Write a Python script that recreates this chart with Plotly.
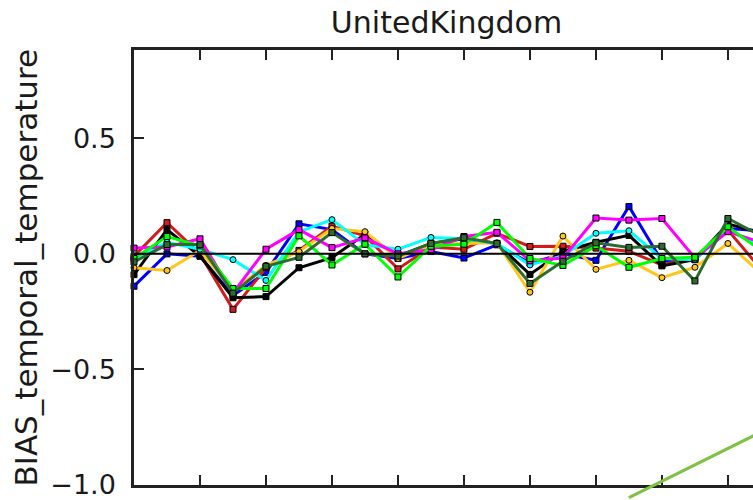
import plotly.graph_objects as go

# Time steps along the x axis
steps = list(range(20))

# Temperature bias per model run, one list per run
bias_blue = [-0.14, 0.0, -0.01, -0.18, -0.08, 0.13, 0.105, 0.0, -0.02, 0.01,
             -0.018, 0.039, -0.04, 0.0, -0.028, 0.205, -0.032, -0.025, 0.11, 0.10]
bias_red = [-0.01, 0.135, 0.0, -0.24, -0.06, 0.015, 0.12, 0.078, -0.065, 0.03,
            0.02, 0.089, 0.032, 0.033, 0.025, 0.011, -0.048, -0.015, 0.103, -0.066]
bias_black = [-0.09, 0.105, -0.01, -0.19, -0.185, -0.06, -0.016, 0.085, -0.01, 0.045,
              0.065, 0.045, -0.089, 0.011, 0.05, 0.08, -0.052, -0.025, 0.13, 0.09]
bias_gold = [-0.06, -0.072, 0.015, -0.16, -0.05, 0.01, 0.11, 0.096, -0.02, 0.04,
             0.045, 0.048, -0.166, 0.077, -0.067, -0.028, -0.103, -0.058, 0.045, -0.085]
bias_cyan = [-0.02, 0.05, 0.02, -0.025, -0.115, 0.095, 0.148, 0.04, 0.02, 0.071,
             0.065, 0.045, -0.048, -0.008, 0.089, 0.1, -0.02, -0.025, 0.105, 0.03]
bias_magenta = [0.025, 0.03, 0.065, -0.17, 0.02, 0.105, 0.027, 0.069, 0.0, 0.018,
                0.075, 0.093, -0.03, -0.018, 0.155, 0.146, 0.153, -0.018, 0.096, 0.05]
bias_lime = [-0.02, 0.075, 0.035, -0.15, -0.15, 0.078, -0.048, 0.042, -0.1, 0.033,
             0.042, 0.136, -0.02, -0.05, 0.035, -0.058, -0.02, -0.015, 0.117, 0.015]
bias_darkgreen = [-0.035, 0.04, 0.04, -0.17, -0.054, -0.015, 0.092, 0.0, -0.01, 0.045,
                  0.07, 0.045, -0.128, -0.032, 0.048, 0.028, 0.033, -0.117, 0.153, 0.078]

# Straight reference line crossing the lower right corner
trend_steps = [15, 19]
trend_bias = [-1.055, -0.771]

y_ticks = [-1.0, -0.5, 0.0, 0.5]
y_range = [-1.0, 0.882]
x_range = [0, 18.76]

runs = [
    (bias_blue, "#0000ff", "square"),
    (bias_red, "#d01c1c", "square"),
    (bias_black, "#000000", "square"),
    (bias_gold, "#ffc61a", "circle"),
    (bias_cyan, "#00ffff", "circle"),
    (bias_magenta, "#ff00ff", "square"),
    (bias_lime, "#00ff00", "square"),
    (bias_darkgreen, "#2e6b30", "square"),
]

fig = go.Figure()
for values, colour, symbol in runs:
    fig.add_trace(go.Scatter(
        x=steps, y=values, mode="lines+markers",
        line=dict(color=colour, width=3),
        marker=dict(symbol=symbol, size=6, color=colour,
                    line=dict(color="#000000", width=1)),
        showlegend=False, cliponaxis=False,
    ))

# Horizontal reference at zero bias
fig.add_hline(y=0, line=dict(color="#000000", width=2), layer="above")

# Diagonal line, free to run below the plotting area
span = y_range[1] - y_range[0]
fig.add_shape(type="line", xref="x", yref="paper",
              x0=trend_steps[0], x1=trend_steps[1],
              y0=(trend_bias[0] - y_range[0]) / span,
              y1=(trend_bias[1] - y_range[0]) / span,
              line=dict(color="#7dc242", width=3), layer="above")

text_font = dict(family="DejaVu Sans", color="#1a1a1a")

fig.update_layout(
    width=753, height=500,
    margin=dict(l=134, r=0, t=49.5, b=7.5),
    paper_bgcolor="white", plot_bgcolor="white",
    font=dict(family="DejaVu Sans", size=27, color="#1a1a1a"),
    title=dict(text="UnitedKingdom", x=446.5 / 753, xanchor="center",
               xref="container", y=1 - 22 / 500, yanchor="middle",
               font=dict(size=30, **text_font)),
    xaxis=dict(range=x_range, tick0=0, dtick=2, ticks="inside", ticklen=10,
               tickwidth=1.5, tickcolor="#222222", showticklabels=False,
               showline=True, linewidth=2.5, linecolor="#222222",
               mirror="ticks", showgrid=False, zeroline=False),
    yaxis=dict(range=y_range, tickvals=y_ticks, tickformat=".1f",
               ticks="inside", ticklen=10, tickwidth=1.5, tickcolor="#222222",
               ticklabelstandoff=10, ticklabeloverflow="allow",
               tickfont=dict(size=27, **text_font),
               showline=True, linewidth=2.5, linecolor="#222222",
               mirror=False, showgrid=False, zeroline=False),
)

fig.add_annotation(text="BIAS_temporal_temperature", textangle=-90,
                   xref="paper", yref="paper", x=(25 - 134) / 619, y=0.5,
                   xanchor="center", yanchor="middle", showarrow=False,
                   font=dict(size=31, **text_font))

fig.write_html("out.html")
